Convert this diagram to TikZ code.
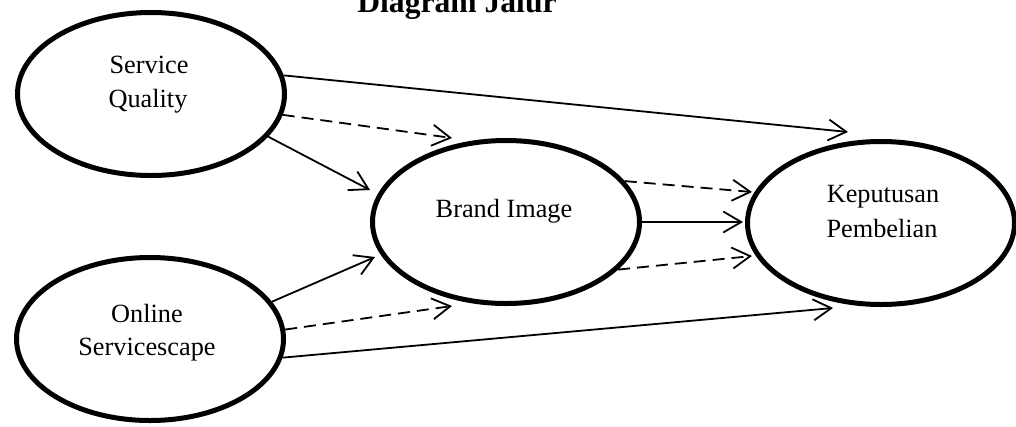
\documentclass[tikz,border=0pt]{standalone}
\usepackage{fontspec}
\setmainfont{Liberation Serif}
\usetikzlibrary{shapes.geometric,arrows.meta}
\tikzset{
  construct/.style={ellipse, draw, line width=5pt, inner sep=0pt, minimum width=267pt, minimum height=163pt},
  lbl/.style={anchor=base, inner sep=0pt, font=\fontsize{26.3}{30}\selectfont},
  path/.style={line width=1.8pt, -{Straight Barb[length=18pt,width=21pt,line width=1.8pt]}},
  ind/.style={path, dash pattern=on 12pt off 7pt}
}
\begin{document}
\begin{tikzpicture}[x=1pt,y=-1pt]
\useasboundingbox (0,0) rectangle (1016,426);
\node[anchor=base, inner sep=0pt, font=\fontsize{31.6}{36}\selectfont\bfseries] (title) at (457,12) {Diagram Jalur};
% constructs
\node[construct] (sq) at (151,94) {};
\node[construct] (os) at (150,339) {};
\node[construct] (bi) at (506,222) {};
\node[construct] (kp) at (881,223) {};
% labels
\node[lbl] (sq1) at (149,73) {Service};
\node[lbl] (sq2) at (148,107) {Quality};
\node[lbl] (os1) at (147,322) {Online};
\node[lbl] (os2) at (147,355) {Servicescape};
\node[lbl] (bi1) at (504,217) {Brand Image};
\node[lbl] (kp1) at (883,202) {Keputusan};
\node[lbl] (kp2) at (882,237) {Pembelian};
% arrow tips
\coordinate (t1) at (848,132);
\coordinate (t2) at (452,138);
\coordinate (t3) at (370,190);
\coordinate (t4) at (375,257);
\coordinate (t5) at (452,306);
\coordinate (t6) at (833,308);
\coordinate (t7) at (752,192);
\coordinate (t8) at (743,222);
\coordinate (t9) at (752,256);
% connectors
\draw[path] (sq.8) -- (t1);
\draw[ind] (sq.-9) -- (t2);
\draw[path] (sq.-20.6) -- (t3);
\draw[path] (os.17.4) -- (t4);
\draw[ind] (os.4.7) -- (t5);
\draw[path] (os.-8.9) -- (t6);
\draw[ind] (bi.19.8) -- (t7);
\draw[path] (bi.0) -- (t8);
\draw[ind] (bi.-23.2) -- (t9);
\end{tikzpicture}
\end{document}
